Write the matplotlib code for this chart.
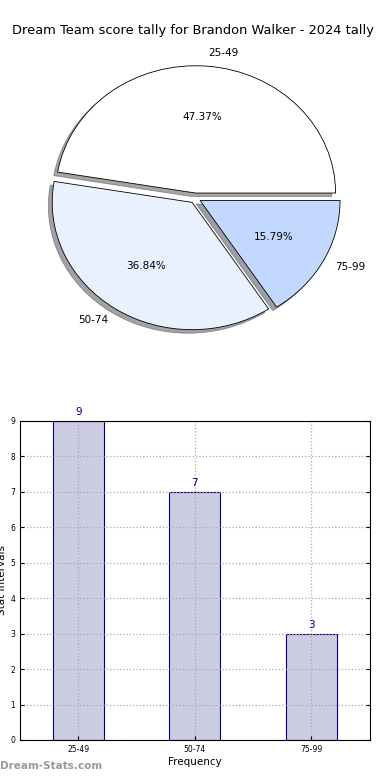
import numpy as np
import matplotlib
matplotlib.use("Agg")
import matplotlib.pyplot as plt

labels = ["25-49", "50-74", "75-99"]
counts = [9, 7, 3]
pie_colors = ["#ffffff", "#eaf1fe", "#c2d8fe"]
title = "Dream Team score tally for Brandon Walker - 2024 tally"

fig = plt.figure(figsize=(3.9, 7.8), dpi=100)

# pie (ellipse, old-style look)
ax1 = fig.add_axes([0.052, 0.542, 0.897, 0.408])
wedges, texts, autotexts = ax1.pie(counts, labels=labels, colors=pie_colors, explode=[0.04]*3,
                                   autopct="%.2f%%", shadow=True, startangle=0,
                                   wedgeprops=dict(edgecolor="black", linewidth=0.6),
                                   textprops=dict(fontsize=7.5))
ax1.set_aspect("auto")
ax1.set_xlim(-1.25, 1.25); ax1.set_ylim(-1.25, 1.25)
fig.text(0.495, 0.961, title, ha="center", va="center", fontsize=9.4)

# bars
ax2 = fig.add_axes([0.051, 0.0513, 0.897, 0.409])
x = np.arange(len(labels))
ax2.bar(x, counts, width=0.44, color="#ccccE3", edgecolor="navy", linewidth=0.8)
for xi, c in zip(x, counts):
    ax2.text(xi, c + 0.1, str(c), ha="center", va="bottom", color="navy", fontsize=7.5)
ax2.set_xlim(-0.5, 2.5)
ax2.set_ylim(0, 9)
ax2.set_yticks(range(10))
ax2.set_xticks(x)
ax2.set_xticklabels(labels)
ax2.tick_params(labelsize=5.5, direction="in", length=3, right=True)
ax2.set_axisbelow(False)
ax2.grid(True, linestyle=":", color="#aaaaaa", linewidth=0.9)
ax2.set_xlabel("Frequency", fontsize=7.5, labelpad=2)
ax2.set_ylabel("Stat intervals", fontsize=7.5, labelpad=2)
for s in ax2.spines.values():
    s.set_linewidth(0.8)
    s.set_zorder(5)

fig.text(0.0, 0.012, "Dream-Stats.com", fontsize=7.5, color="#999999", fontweight="bold", ha="left", va="bottom")

fig.savefig("out.png", dpi=100)
